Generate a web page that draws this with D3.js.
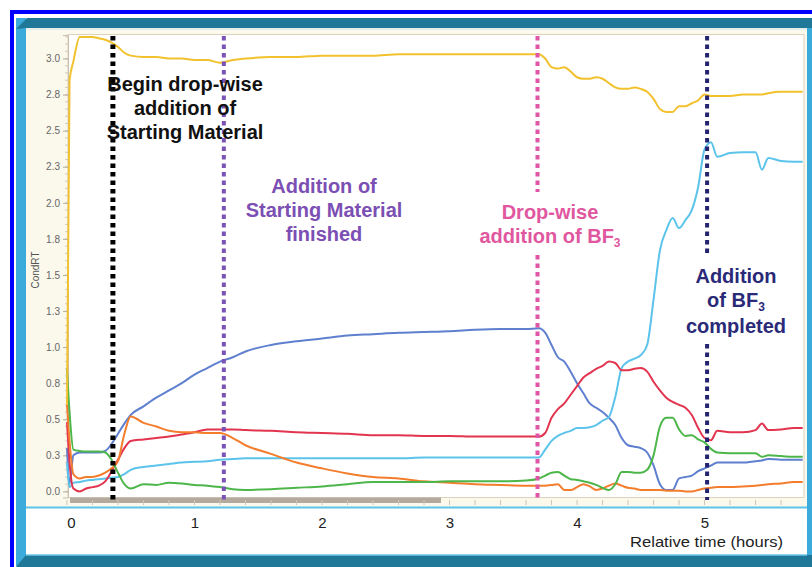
<!DOCTYPE html>
<html><head><meta charset="utf-8">
<script src="https://cdn.jsdelivr.net/npm/d3@7"></script>
<style>body{margin:0;background:#fff}svg{display:block}</style>
</head><body>
<svg id="c" width="812" height="567"></svg>
<script>
// ---------- data ----------
const times = [0,0.02,0.05,0.1,0.15,0.2,0.25,0.3,0.35,0.4,
  0.45,0.5,0.6,0.7,0.8,0.9,1.0,1.1,1.2,1.3,
  1.4,1.6,1.8,2.0,2.2,2.4,2.6,2.8,3.0,3.2,
  3.4,3.6,3.7,3.75,3.8,3.85,3.9,3.95,4.0,4.05,
  4.1,4.15,4.2,4.25,4.3,4.35,4.4,4.45,4.5,4.55,
  4.6,4.65,4.7,4.75,4.8,4.85,4.9,4.95,5.0,5.05,
  5.1,5.2,5.3,5.4,5.45,5.5,5.6,5.7,5.77];

const yellowValues = [0.6,2.85,2.98,3.15,3.15,3.15,3.14,3.13,3.11,3.08,
  3.04,3.02,3.01,3.01,3.0,3.0,2.99,2.99,2.97,2.99,
  3.0,3.01,3.01,3.02,3.02,3.02,3.03,3.03,3.03,3.03,
  3.03,3.03,3.03,3.0,2.94,2.93,2.94,2.91,2.87,2.86,
  2.86,2.87,2.86,2.83,2.80,2.79,2.79,2.80,2.79,2.77,
  2.72,2.65,2.63,2.63,2.67,2.67,2.69,2.71,2.75,2.74,
  2.74,2.74,2.75,2.75,2.75,2.76,2.77,2.77,2.77];

const blueValues = [0.3,0.05,0.25,0.27,0.27,0.27,0.27,0.28,0.33,0.40,
  0.47,0.53,0.59,0.65,0.70,0.75,0.81,0.855,0.90,0.93,
  0.97,1.015,1.04,1.06,1.08,1.09,1.10,1.105,1.11,1.12,
  1.125,1.125,1.13,1.10,1.015,0.93,0.90,0.83,0.75,0.68,
  0.61,0.58,0.55,0.51,0.46,0.37,0.32,0.31,0.30,0.27,
  0.18,0.05,0.01,0.01,0.09,0.10,0.11,0.14,0.16,0.18,
  0.20,0.20,0.20,0.21,0.215,0.225,0.22,0.22,0.22];

const redValues = [0.48,0.2,0.02,0.0,0.02,0.03,0.04,0.07,0.14,0.22,
  0.30,0.35,0.36,0.37,0.38,0.395,0.41,0.43,0.43,0.43,
  0.425,0.42,0.41,0.405,0.40,0.39,0.39,0.385,0.385,0.38,
  0.38,0.38,0.38,0.405,0.51,0.57,0.61,0.67,0.73,0.79,
  0.82,0.85,0.87,0.90,0.89,0.84,0.84,0.85,0.855,0.83,
  0.76,0.70,0.65,0.62,0.60,0.58,0.53,0.44,0.37,0.355,
  0.42,0.41,0.41,0.425,0.47,0.425,0.43,0.44,0.44];

const orangeValues = [0.6,0.35,0.12,0.09,0.10,0.10,0.11,0.13,0.16,0.21,
  0.40,0.52,0.475,0.45,0.42,0.41,0.41,0.405,0.405,0.37,
  0.32,0.26,0.20,0.16,0.125,0.10,0.09,0.07,0.06,0.05,
  0.045,0.04,0.04,0.04,0.045,0.05,0.01,0.01,0.03,0.05,
  0.035,0.01,0.02,0.04,0.055,0.04,0.025,0.02,0.01,0.01,
  0.01,0.01,0.005,0.005,0.005,0.0,0.0,0.01,0.02,0.025,
  0.03,0.03,0.035,0.04,0.045,0.05,0.055,0.065,0.065];

const greenValues = [0.85,0.55,0.29,0.28,0.276,0.276,0.276,0.27,0.22,0.13,
  0.05,0.02,0.05,0.045,0.06,0.055,0.045,0.04,0.03,0.015,
  0.01,0.015,0.025,0.035,0.05,0.065,0.065,0.065,0.07,0.07,
  0.07,0.075,0.09,0.11,0.13,0.135,0.11,0.085,0.08,0.07,
  0.06,0.045,0.025,0.01,0.05,0.135,0.135,0.13,0.13,0.15,
  0.25,0.45,0.51,0.51,0.43,0.385,0.39,0.36,0.34,0.295,
  0.27,0.265,0.265,0.265,0.24,0.25,0.245,0.24,0.24];

const cyanValues = [0.2,0.03,0.06,0.065,0.075,0.08,0.085,0.09,0.095,0.10,
  0.12,0.15,0.17,0.18,0.19,0.20,0.205,0.21,0.22,0.225,
  0.23,0.23,0.23,0.23,0.23,0.23,0.23,0.235,0.235,0.235,
  0.235,0.235,0.235,0.29,0.35,0.385,0.405,0.42,0.44,0.44,
  0.445,0.46,0.49,0.515,0.655,0.855,0.90,0.92,0.945,1.015,
  1.33,1.67,1.81,1.895,1.825,1.88,1.95,2.11,2.37,2.42,
  2.32,2.345,2.35,2.35,2.23,2.31,2.29,2.285,2.285];

const yTickValues = [0,0.25,0.5,0.75,1.0,1.25,1.5,1.75,2.0,2.25,2.5,2.75,3.0];
const yTickLabels = ["0.0","0.3","0.5","0.8","1.0","1.3","1.5","1.8","2.0","2.3","2.5","2.8","3.0"];
const xTickValues = [0,1,2,3,4,5];
const xTickLabels = ["0","1","2","3","4","5"];
const yAxisTitle = "CondRT";
const xAxisTitle = "Relative time (hours)";

const eventTimes = [0.36, 1.23, 3.69, 5.02];
const eventTexts = [
  ["Begin drop-wise","addition of","Starting Material"],
  ["Addition of","Starting Material","finished"],
  ["Drop-wise","addition of BF|3"],
  ["Addition","of BF|3","completed"]
];

// ---------- styles / layout ----------
const seriesList = [
  {vals: blueValues,   color: "#5f7fcf"},
  {vals: cyanValues,   color: "#5cc3ea"},
  {vals: redValues,    color: "#e2344f"},
  {vals: orangeValues, color: "#f37d2c"},
  {vals: greenValues,  color: "#4db64a"},
  {vals: yellowValues, color: "#f2c12e"}
];
const eventStyle = [
  {color:"#000000", w:5, textColor:"#111111", cx:185, base:[91,115,139], gaps:[]},
  {color:"#7b52b6", w:4, textColor:"#7b4fb3", cx:324, base:[193,217,241], gaps:[]},
  {color:"#e055a5", w:4, textColor:"#e0579f", cx:550, base:[219,243], gaps:[[192,255]]},
  {color:"#23236f", w:4, textColor:"#2a2a78", cx:736, base:[283,307,333], gaps:[[254,344]]}
];

const svg = d3.select("#c");
const FONT = "'Liberation Sans', Arial, Helvetica, sans-serif";

// outer frame
svg.append("rect").attr("x",12).attr("y",12).attr("width",840).attr("height",600)
  .attr("fill","none").attr("stroke","#0000ff").attr("stroke-width",4);
// panel background
svg.append("rect").attr("x",26).attr("y",28).attr("width",781).attr("height",479).attr("fill","#fbf8ec");
svg.append("rect").attr("x",26).attr("y",507).attr("width",781).attr("height",48).attr("fill","#ffffff");
// side light-blue strips
svg.append("rect").attr("x",16).attr("y",18).attr("width",10).attr("height",548).attr("fill","#3aabda");
svg.append("rect").attr("x",807).attr("y",18).attr("width",5).attr("height",548).attr("fill","#3aabda");
// top bar with bevel
svg.append("polygon").attr("points","16,29 27,18 812,18 812,28 26,28").attr("fill","#1f7898");
svg.append("line").attr("x1",26).attr("x2",807).attr("y1",29).attr("y2",29).attr("stroke","#cfe3ea").attr("stroke-width",1);
// bottom bar
svg.append("polygon").attr("points","26,555 812,555 812,567 16,567").attr("fill","#1f7898");
svg.append("line").attr("x1",26).attr("x2",807).attr("y1",555).attr("y2",555).attr("stroke","#6cc6ea").attr("stroke-width",1.5);

// scales
const x = d3.scaleLinear().domain([0,5.78]).range([67,804]);
const y = d3.scaleLinear().domain([-0.042,3.163]).range([497.5,35]);

// plot area
svg.append("rect").attr("x",68).attr("y",34.5).attr("width",736).attr("height",463)
  .attr("fill","#ffffff").attr("stroke","#ded2bd").attr("stroke-width",1);

// y axis
const yMinor = d3.range(0, 3.16, 0.05);
svg.append("g").selectAll("line").data(yMinor).join("line")
  .attr("x1",65).attr("x2",68).attr("y1",d=>y(d)).attr("y2",d=>y(d))
  .attr("stroke","#c9bfae").attr("stroke-width",0.8);
const yAxis = d3.axisLeft(y).tickValues(yTickValues).tickSize(5).tickPadding(3)
  .tickFormat((d,i)=>yTickLabels[i]);
const gy = svg.append("g").attr("transform","translate(68,0)").call(yAxis);
gy.select(".domain").attr("stroke","#c9bfae");
gy.selectAll(".tick line").attr("stroke","#b9ae9c");
gy.selectAll(".tick text").attr("fill","#666").style("font-family",FONT).style("font-size","10px");
svg.append("text").attr("transform","translate(39,270) rotate(-90)")
  .attr("text-anchor","middle").attr("fill","#555").style("font-family",FONT).style("font-size","10px")
  .text(yAxisTitle);

// bottom gray scroll bar & minor x ticks
svg.append("rect").attr("x",70).attr("y",497.5).attr("width",371).attr("height",5.5).attr("fill","#b3aa9d");
const xMinor = d3.range(0, 5.79, 0.2);
svg.append("g").selectAll("line").data(xMinor).join("line")
  .attr("x1",d=>x(d)).attr("x2",d=>x(d)).attr("y1",500).attr("y2",505)
  .attr("stroke","#cfc5b4").attr("stroke-width",1);
svg.append("line").attr("x1",26).attr("x2",807).attr("y1",507.5).attr("y2",507.5)
  .attr("stroke","#5cc3ea").attr("stroke-width",2);

// x axis labels
const xAxis = d3.axisBottom(x).tickValues(xTickValues).tickSize(0).tickPadding(0)
  .tickFormat((d,i)=>xTickLabels[i]);
const gx = svg.append("g").attr("transform","translate(0,516)").call(xAxis);
gx.select(".domain").remove();
gx.selectAll(".tick text").attr("fill","#222").attr("dy","12")
  .attr("dx",(d)=> d===0 ? 4 : 0)
  .style("font-family",FONT).style("font-size","15px");
svg.append("text").attr("x",783).attr("y",547).attr("text-anchor","end")
  .attr("fill","#222").style("font-family",FONT).style("font-size","15px")
  .attr("textLength",153).attr("lengthAdjust","spacingAndGlyphs")
  .text(xAxisTitle);

// series lines
const line = d3.line().x((d,i)=>x(times[i])).y(d=>y(d)).curve(d3.curveMonotoneX);
svg.append("g").selectAll("path").data(seriesList).join("path")
  .attr("d",s=>line(s.vals)).attr("fill","none").attr("stroke",s=>s.color)
  .attr("stroke-width",2).attr("stroke-linejoin","round");

// event dotted lines
eventTimes.forEach((t,i)=>{
  const st = eventStyle[i];
  const top = 36, bot = 500;
  const segs = [];
  let start = top;
  st.gaps.forEach(g=>{ segs.push([start,g[0]]); start = g[1]; });
  segs.push([start,bot]);
  segs.forEach(s=>{
    svg.append("line").attr("x1",x(t)).attr("x2",x(t)).attr("y1",s[0]).attr("y2",s[1])
      .attr("stroke",st.color).attr("stroke-width",st.w).attr("stroke-dasharray","4.5,4");
  });
});

// event annotations
eventTexts.forEach((lines,i)=>{
  const st = eventStyle[i];
  lines.forEach((ln,j)=>{
    const t = svg.append("text").attr("x",st.cx).attr("y",st.base[j]).attr("text-anchor","middle")
      .attr("fill",st.textColor).style("font-family",FONT).style("font-size","20px").style("font-weight","bold");
    const parts = ln.split("|");
    t.append("tspan").text(parts[0]);
    if (parts.length>1) {
      t.append("tspan").attr("dy",4).style("font-size","12px").text(parts[1]);
    }
  });
});
</script>
</body></html>
